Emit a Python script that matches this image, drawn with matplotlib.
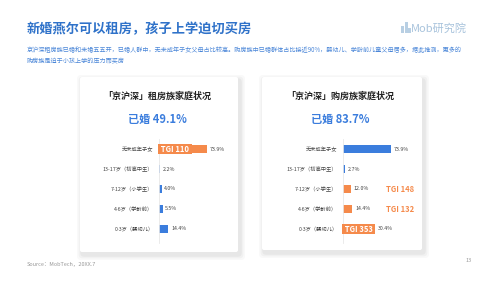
import matplotlib
matplotlib.use("Agg")
import matplotlib.pyplot as plt
from matplotlib.patches import FancyBboxPatch, Rectangle

plt.rcParams["font.family"] = ["Noto Sans CJK SC", "DejaVu Sans"]

# ---- data ----
categories = ["无未成年子女", "13-17岁（初高中生）", "7-12岁（小学生）", "4-6岁（学龄前）", "0-3岁（婴幼儿）"]
rent_share = [73.9, 2.2, 4.0, 5.5, 14.4]
rent_tgi = [110, None, None, None, None]
buy_share = [73.9, 2.7, 12.0, 14.4, 30.4]
buy_tgi = [None, None, 148, 132, 353]
panel_titles = ["「京沪深」租房族家庭状况", "「京沪深」购房族家庭状况"]
married = [49.1, 83.7]

title = "新婚燕尔可以租房，孩子上学迫切买房"
subtitle = ["京沪深租房族已婚和未婚五五开，已婚人群中，无未成年子女父母占比较高。购房族中已婚群体占比接近90%，婴幼儿、学龄前儿童父母居多，据此推测，更多的",
            "购房族是迫于小孩上学的压力而买房"]
source = "Source：MobTech，20XX.7"

BLUE = "#3b7ddd"
ORANGE = "#f58a4b"
TITLE_BLUE = "#2f72c9"

W, H = 500, 281
fig = plt.figure(figsize=(W / 100, H / 100), dpi=100)
fig.patch.set_facecolor("white")

bg = fig.add_axes([0, 0, 1, 1])
bg.set_xlim(0, W)
bg.set_ylim(H, 0)
bg.axis("off")

# header
bg.text(27, 29, title, fontsize=9.5, fontweight="bold", color=TITLE_BLUE, va="center")
bg.text(27, 50, subtitle[0], fontsize=4.4, color="#4a86d8", va="center")
bg.text(27, 61, subtitle[1], fontsize=4.4, color="#4a86d8", va="center")

# logo
for dx, hh in [(0, 7), (3.5, 11), (7, 5)]:
    bg.add_patch(Rectangle((401 + dx, 33 - hh), 3, hh, color="#b8cfe3", lw=0))
bg.text(411, 28, "Mob研究院", fontsize=8, color="#a8c3dc", va="center", style="italic")

# cards with soft shadow
cards = [(80, 77, 158, 175), (262, 77, 160, 173)]
for (x0, y0, w, h) in cards:
    for k, a in enumerate([0.025, 0.03, 0.04]):
        s = 5 - k * 1.6
        bg.add_patch(FancyBboxPatch((x0 - s + 2, y0 - s + 3), w + 2 * s, h + 2 * s,
                                    boxstyle="round,pad=0,rounding_size=4",
                                    fc="#000000", ec="none", alpha=a))
    bg.add_patch(FancyBboxPatch((x0, y0), w, h, boxstyle="round,pad=0,rounding_size=2",
                                fc="white", ec="none"))

for i, (x0, y0, w, h) in enumerate(cards):
    cx = x0 + w / 2
    bg.text(cx - 2, 96, panel_titles[i], fontsize=6.5, fontweight="bold", color="#222222",
            ha="center", va="center")
    bg.text(cx - 2, 119, f"已婚 {married[i]}%", fontsize=8, fontweight="bold", color=BLUE,
            ha="center", va="center")

bg.text(27, 264, source, fontsize=4, color="#999999", va="center")
bg.text(469, 260, "13", fontsize=4, color="#999999", va="center", ha="center")

# ---- bar panels ----
px_per_pct = 0.65


def draw_panel(x_left, shares, tgis):
    width_px = 100
    ax = fig.add_axes([x_left / W, 1 - 243 / H, width_px / W, 104 / H])
    ax.set_facecolor("none")
    ax.set_xlim(0, width_px / px_per_pct)
    ax.set_ylim(4.7, -0.5)
    ypos = list(range(len(categories)))
    colors = [ORANGE if t is not None else BLUE for t in tgis]
    ax.barh(ypos, shares, height=0.4, color=colors)
    ax.set_yticks(ypos)
    ax.set_yticklabels(categories, fontsize=3.8, color="#444444")
    ax.tick_params(axis="y", length=0, pad=4)
    ax.set_xticks([])
    for sp in ["top", "right", "bottom"]:
        ax.spines[sp].set_visible(False)
    ax.spines["left"].set_color("#e8e8e8")
    ax.spines["left"].set_linewidth(0.6)

    known = [t for t in tgis if t is not None]
    top_tgi = max(known) if known else None
    inside = {}
    for y, v, t in zip(ypos, shares, tgis):
        if t is not None and t == top_tgi:
            inside[y] = ax.text(0, y, f" TGI {t} ", fontsize=5.5, fontweight="bold",
                                color="white", va="center", ha="left",
                                bbox=dict(boxstyle="square,pad=0.1", fc=ORANGE, ec="none"))
        elif t is not None:
            ax.text(0.43, y, f"TGI {t}", transform=ax.get_yaxis_transform(),
                    fontsize=5.5, fontweight="bold", color=ORANGE, va="center")
    return ax, ypos, inside


panels = [draw_panel(159, rent_share, rent_tgi), draw_panel(343, buy_share, buy_tgi)]
fig.canvas.draw()
renderer = fig.canvas.get_renderer()

for (ax, ypos, inside), shares in zip(panels, [rent_share, buy_share]):
    for y, v in zip(ypos, shares):
        end_disp = ax.transData.transform((v, y))[0]
        if y in inside:
            ext = inside[y].get_bbox_patch().get_window_extent(renderer)
            end_disp = max(end_disp, ext.x1)
        xv = ax.transData.inverted().transform((end_disp, 0))[0]
        ax.annotate(f"{v}%", (xv, y), xytext=(2, 0), textcoords="offset points",
                    fontsize=3.8, color="#444444", va="center")

fig.savefig("out.png", dpi=100, facecolor=fig.get_facecolor())
